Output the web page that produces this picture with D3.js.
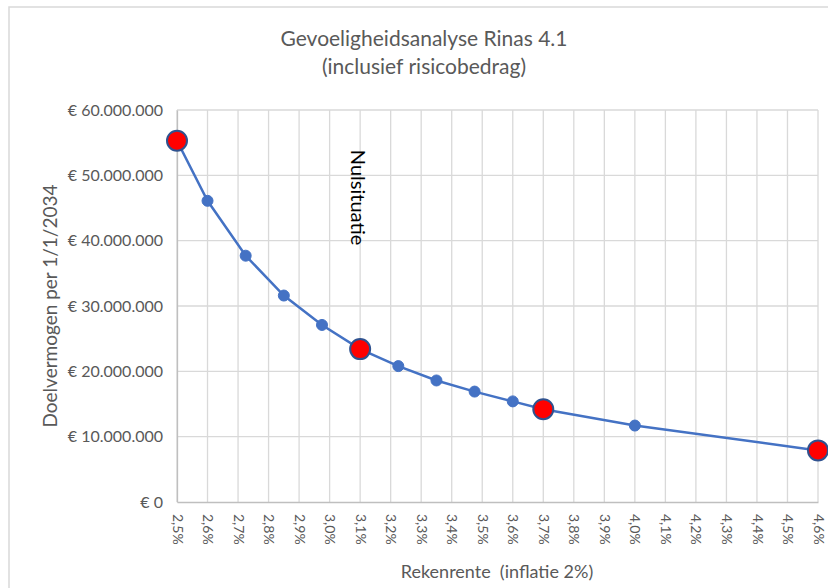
<!DOCTYPE html>
<html>
<head>
<meta charset="utf-8">
<script src="https://cdn.jsdelivr.net/npm/d3@7"></script>
<style>
  body { margin: 0; background: #fff; }
  text { font-family: Lato, "Open Sans", sans-serif; fill: #595959; }
</style>
</head>
<body>
<div id="chart"></div>
<script>
// rekenrente (%) en doelvermogen (EUR)
const rates = [2.5, 2.6, 2.725, 2.85, 2.975, 3.1, 3.225, 3.35, 3.475, 3.6, 3.7, 4.0, 4.6];
const values = [55300000, 46100000, 37700000, 31600000, 27100000, 23400000, 20800000, 18600000, 16900000, 15400000, 14200000, 11700000, 7900000];
// scenario's die groot en rood gemarkeerd zijn
const highlighted = [2.5, 3.1, 3.7, 4.6];
const xTicks = d3.range(25, 47).map(d => d / 10);
const yTicks = [0, 10000000, 20000000, 30000000, 40000000, 50000000, 60000000];

const W = 828, H = 588;
let margin = {top: 110, right: 10, bottom: 86, left: 177},
    width = 818 - margin.left,
    height = 502 - margin.top;

const svg = d3.select("#chart")
  .append("svg")
    .attr("width", W)
    .attr("height", H);

// chart border
svg.append("rect")
    .attr("x", 9).attr("y", 7)
    .attr("width", W).attr("height", H)
    .attr("fill", "none")
    .attr("stroke", "#d9d9d9")
    .attr("stroke-width", 1.5);

const g = svg.append("g")
    .attr("transform", `translate(${margin.left},${margin.top})`);

let x = d3.scaleLinear()
    .domain([2.5, 4.6])
    .range([0, width]);

let y = d3.scaleLinear()
    .domain([0, 60000000])
    .range([height, 0]);

const euro = v => "€ " + d3.format(",")(v).replace(/,/g, ".");
const pct = v => d3.format(".1f")(v).replace(".", ",") + "%";

// gridlines
g.append("g")
  .selectAll("line")
  .data(yTicks.slice(1))
  .join("line")
    .attr("x1", 0).attr("x2", width)
    .attr("y1", d => y(d)).attr("y2", d => y(d))
    .attr("stroke", "#d9d9d9")
    .attr("stroke-width", 1.3);

g.append("g")
  .selectAll("line")
  .data(xTicks)
  .join("line")
    .attr("x1", d => x(d)).attr("x2", d => x(d))
    .attr("y1", 0).attr("y2", height)
    .attr("stroke", "#d9d9d9")
    .attr("stroke-width", 1.3);

// y axis
let yAxis = g.append("g")
    .call(d3.axisLeft(y).tickValues(yTicks).tickFormat(euro).tickSize(0).tickPadding(14))
    .call(a => a.select(".domain").attr("stroke", "#bfbfbf").attr("stroke-width", 1.3));
yAxis.selectAll("text")
    .attr("font-size", 16)
    .style("fill", "#595959");

// x axis
let xAxis = g.append("g")
    .attr("transform", `translate(0,${height})`)
    .call(d3.axisBottom(x).tickValues(xTicks).tickFormat(pct).tickSize(0))
    .call(a => a.select(".domain").attr("stroke", "#bfbfbf").attr("stroke-width", 1.3));
xAxis.selectAll("text")
    .attr("font-size", 14)
    .attr("transform", "rotate(90)")
    .attr("text-anchor", "start")
    .attr("x", 12)
    .attr("y", 0)
    .attr("dy", "0.35em")
    .style("fill", "#595959");

// line
const line = d3.line()
    .x((d, i) => x(rates[i]))
    .y(d => y(d));

g.append("path")
    .datum(values)
    .attr("fill", "none")
    .attr("stroke", "#4472c4")
    .attr("stroke-width", 2.5)
    .attr("d", line);

const pts = rates.map((r, i) => ({r, v: values[i], big: highlighted.includes(r)}));

g.append("g")
  .selectAll("circle")
  .data(pts)
  .join("circle")
    .attr("cx", d => x(d.r))
    .attr("cy", d => y(d.v))
    .attr("r", d => d.big ? 10 : 5.5)
    .attr("fill", d => d.big ? "#ff0000" : "#4472c4")
    .attr("stroke", d => d.big ? "#2f528f" : "#4472c4")
    .attr("stroke-width", d => d.big ? 2 : 1);

// label nulsituatie
g.append("text")
    .attr("transform", `translate(${x(3.1) - 2},${y(53900000)}) rotate(90)`)
    .attr("dy", "0.35em")
    .attr("font-size", 20)
    .style("fill", "#000")
    .text("Nulsituatie");

// titles
svg.append("text")
    .attr("x", 424).attr("y", 46)
    .attr("text-anchor", "middle")
    .attr("font-size", 21)
    .text("Gevoeligheidsanalyse Rinas 4.1");
svg.append("text")
    .attr("x", 424).attr("y", 74)
    .attr("text-anchor", "middle")
    .attr("font-size", 21)
    .text("(inclusief risicobedrag)");

svg.append("text")
    .attr("transform", `translate(50,306) rotate(-90)`)
    .attr("text-anchor", "middle")
    .attr("dy", "0.35em")
    .attr("font-size", 19)
    .text("Doelvermogen per 1/1/2034");

svg.append("text")
    .attr("x", 497).attr("y", 578)
    .attr("text-anchor", "middle")
    .attr("font-size", 18)
    .attr("xml:space", "preserve")
    .style("white-space", "pre")
    .text("Rekenrente  (inflatie 2%)");
</script>
</body>
</html>
